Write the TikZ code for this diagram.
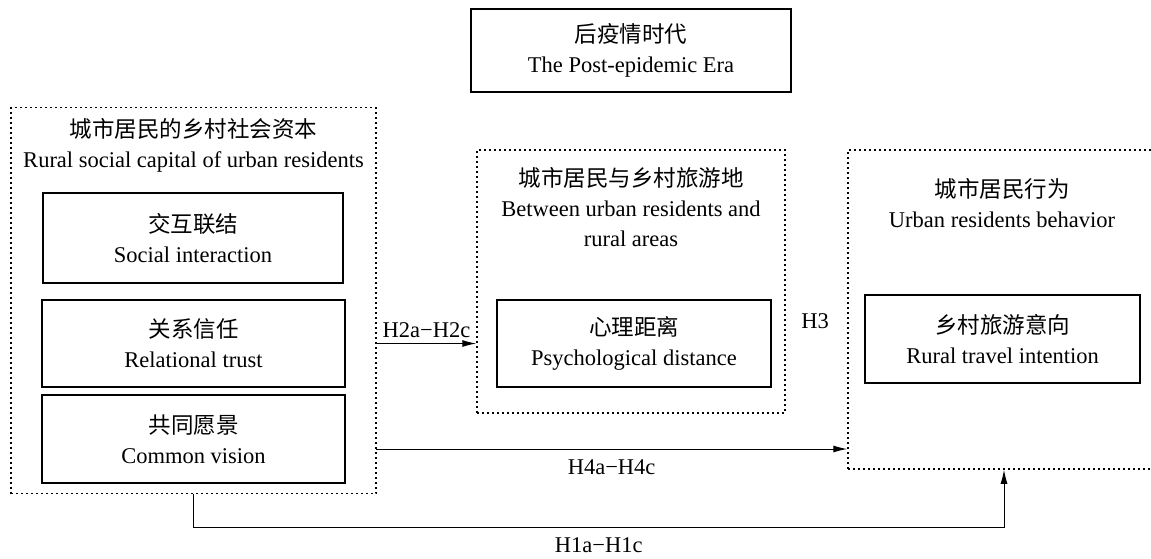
\documentclass[tikz,border=0pt]{standalone}
\usepackage{fontspec}
\setmainfont{Liberation Serif}
\newfontfamily\cjk{Noto Sans CJK SC}
\usetikzlibrary{calc,arrows.meta}
\newcommand{\zh}[1]{{\cjk\fontsize{22.5}{30}\selectfont #1}}

\begin{document}
\begin{tikzpicture}[
 x=1pt, y=-1pt,
 line width=1pt,
 >={Latex[length=14pt,width=7pt]},
 align=center,
 font=\fontsize{22.5}{30}\selectfont,
 box/.style={draw=black,rectangle,line width=1.2pt,inner sep=0pt},
 group/.style={draw=black,rectangle,line width=1.5pt,dash pattern=on 2pt off 3pt,inner sep=0pt}
]
\useasboundingbox (0,0) rectangle (1151,558);
\node (era) [box,minimum width=320pt,minimum height=83pt] at (631,50.5) {\zh{后疫情时代}\\The Post-epidemic Era};
% social capital
\node (capital) [group,minimum width=365pt,minimum height=386pt] at (193.5,300.5) {};
\node (capital-title) at (193.5,145) {\zh{城市居民的乡村社会资本}\\Rural social capital of urban residents};
\node (interaction) [box,minimum width=300pt,minimum height=90pt] at (193,238) {\zh{交互联结}\\Social interaction};
\node (trust) [box,minimum width=303pt,minimum height=87pt] at (193.5,343.5) {\zh{关系信任}\\Relational trust};
\node (vision) [box,minimum width=303pt,minimum height=88pt] at (193.5,439) {\zh{共同愿景}\\Common vision};
% psychological distance
\node (between) [group,minimum width=308pt,minimum height=263pt] at (631,281.5) {};
\node (between-title) at (631,207) {\zh{城市居民与乡村旅游地}\\Between urban residents and\\rural areas};
\node (distance) [box,minimum width=274pt,minimum height=87pt] at (634,343.5) {\zh{心理距离}\\Psychological distance};
% behavior (its right side runs off the page)
\node (behavior) [group,minimum width=312pt,minimum height=319pt] at (1004,309.5) {};
\node (behavior-title) at (1002,203) {\zh{城市居民行为}\\Urban residents behavior};
\node (intention) [box,minimum width=275pt,minimum height=88pt] at (1002.5,339) {\zh{乡村旅游意向}\\Rural travel intention};
\node (h3) at (815,321) {H3};
% hypotheses
\draw[->] (distance -| capital.east) -- node [above=2pt] {H2a−H2c} (distance -| between.west);
\coordinate (h4-start) at (376,449);
\draw[->] (h4-start) -- node [below=7pt] {H4a−H4c} (h4-start -| behavior.west);
\draw[->] (capital.south) -- ++(0,33) -| node [pos=0.25,below=7pt] {H1a−H1c} (behavior.south);
\end{tikzpicture}
\end{document}
